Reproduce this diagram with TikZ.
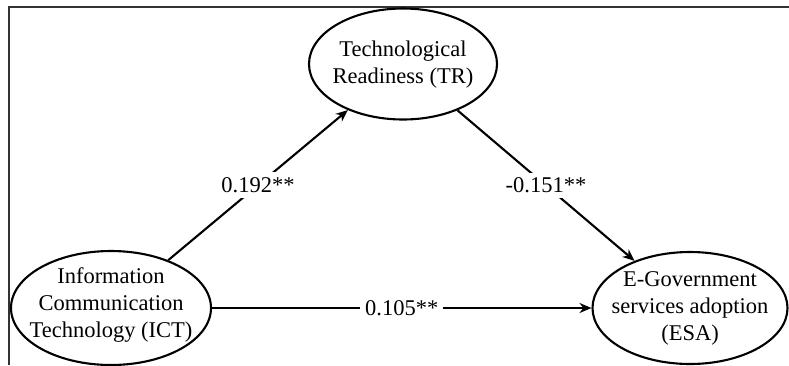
\documentclass[tikz,border=0pt]{standalone}
\usepackage{fontspec}
\setmainfont{Liberation Serif}
\usetikzlibrary{arrows.meta,shapes.geometric}
\begin{document}
\begin{tikzpicture}[x=1pt,y=-1pt,
  construct/.style={ellipse,draw,line width=2.1pt,inner sep=0pt},
  inside/.style={align=center,inner sep=0pt,font=\fontsize{22.5}{27}\selectfont},
  path/.style={line width=2.1pt,-{Stealth[length=12pt,width=10pt]}},
  coef/.style={fill=white,inner sep=5pt,font=\fontsize{22.5}{27}\selectfont}]
\useasboundingbox (0,0) rectangle (789,365);
% frame (top and left rules)
\draw[line width=2.2pt,black!80] (789,7) -- (9,7) -- (9,365);
% constructs: fixed-size ellipses with centred text
\node[construct,minimum width=188pt,minimum height=111pt] (tr) at (403,64) {};
\node[inside] at ([yshift=-1pt]tr.center) {Technological\\Readiness (TR)};
\node[construct,minimum width=200pt,minimum height=114pt] (ict) at (111,308) {};
\node[inside] at ([yshift=3pt]ict.center) {Information\\Communication\\Technology (ICT)};
\node[construct,minimum width=195pt,minimum height=112pt] (esa) at (690,308) {};
\node[inside] at (esa.center) {E-Government\\services adoption\\(ESA)};
% paths
\draw[path] (ict) -- node[coef] {0.192**} (tr);
\draw[path] (tr) -- node[coef] {-0.151**} (esa);
\draw[path] (ict) -- node[coef] {0.105**} (esa);
\end{tikzpicture}
\end{document}
